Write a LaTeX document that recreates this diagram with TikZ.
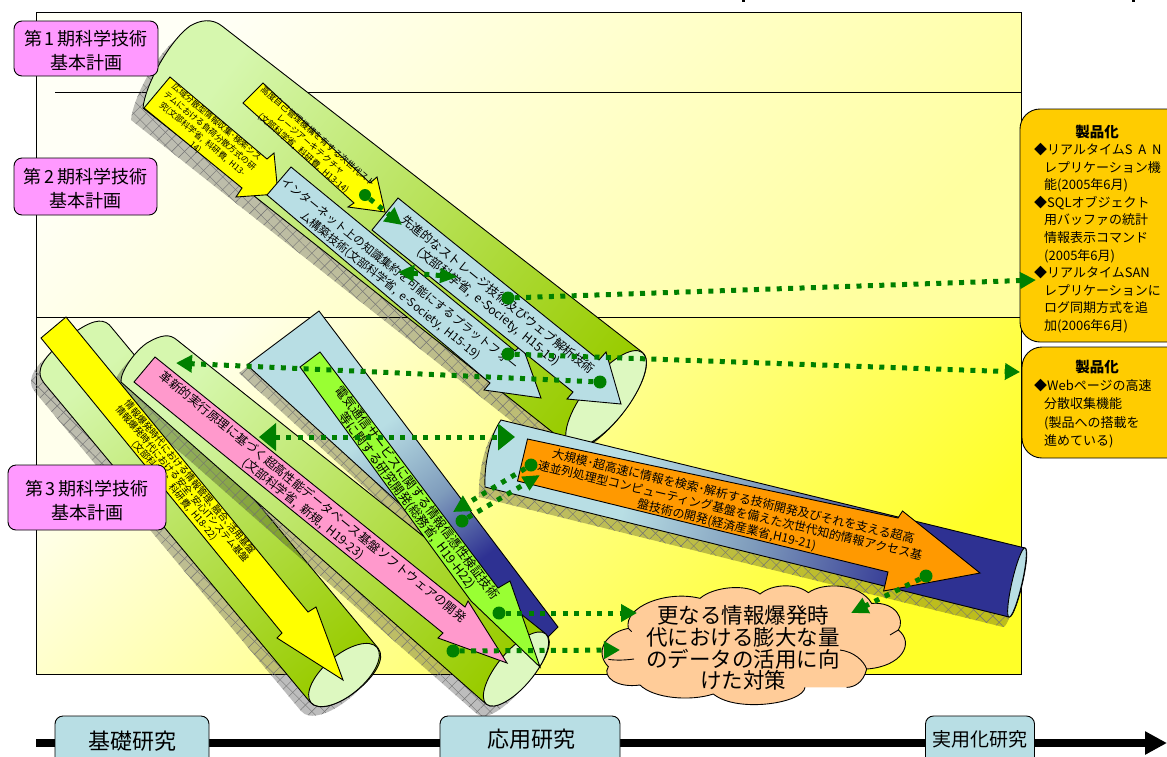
\documentclass[tikz,border=0pt]{standalone}
\usepackage{fontspec}
\setmainfont[WordSpace=2]{Noto Sans CJK JP}
\usetikzlibrary{arrows.meta,patterns.meta}
\definecolor{cylA}{HTML}{D6F7AE}
\definecolor{cylB}{HTML}{99CC00}
\definecolor{cylEnd}{HTML}{DDF8C0}
\definecolor{paleblue}{HTML}{B8DEE4}
\definecolor{navy}{HTML}{2E3192}
\definecolor{midblue}{HTML}{7F9CBC}
\definecolor{ggreen}{HTML}{008000}
\definecolor{labpink}{HTML}{FF99FF}
\definecolor{arrowpink}{HTML}{FF99CC}
\definecolor{lime}{HTML}{99FF33}
\definecolor{orangeA}{HTML}{FF9900}
\definecolor{gold}{HTML}{FFCC00}
\definecolor{peach}{HTML}{FFCC99}
\definecolor{pureyellow}{HTML}{FFFF00}
\definecolor{panelAa}{HTML}{FFFFF6}
\definecolor{panelAb}{HTML}{FFFFA0}
\definecolor{panelBa}{HTML}{FFFFEC}
\definecolor{panelBb}{HTML}{FFFF28}
\pgfdeclareverticalshading{wedgeS}{100bp}{color(0bp)=(navy); color(32bp)=(navy); color(44bp)=(midblue); color(58bp)=(paleblue); color(100bp)=(paleblue)}
\pgfdeclareverticalshading{cylS}{100bp}{color(0bp)=(navy); color(33bp)=(navy); color(50bp)=(midblue); color(64bp)=(paleblue); color(100bp)=(paleblue)}
\tikzset{
  edge/.style={draw=black,line width=.9pt},
  cylbody/.style={edge,top color=cylA,bottom color=cylB,shading angle=#1},
  cylcap/.style={edge,fill=cylEnd},
  arrowshape/.style={edge,fill=#1},
  jt/.style 2 args={font=\fontsize{#1}{#2}\selectfont,align=center,inner sep=0pt},
  period/.style={edge,fill=labpink,rounded corners=8pt,inner sep=0pt},
  periodtext/.style={font=\fontsize{18}{24}\selectfont,align=center,inner sep=0pt},
  stage/.style={edge,fill=paleblue,rounded corners=8pt,inner sep=0pt},
  product/.style={edge,fill=gold,rounded corners=20pt,inner sep=0pt},
  gconn/.style={ggreen,line width=5pt,dash pattern=on 5pt off 6.4pt},
  gstart/.style={circle,fill=ggreen,minimum size=13pt,inner sep=0pt},
}
\newcommand{\hshadow}[3]{%
  \begin{scope}[shift={(#1,#2)}]
    \fill[black,opacity=.26] #3;
    \path[pattern={Lines[angle=45,distance=9pt,line width=.45pt]},pattern color=black!55] #3;
    \path[pattern={Lines[angle=-45,distance=9pt,line width=.45pt]},pattern color=black!55] #3;
  \end{scope}}
\newcommand{\cylAshape}{(642,352) -- (222,26) .. controls (212,18) and (200,20) .. (190,26) .. controls (170,40) and (145,85) .. (143,108) -- (570,446) .. controls (593,464) and (665,370) .. (642,352) -- cycle}
\newcommand{\cylBshape}{(378,648) -- (112,328) .. controls (105,318) and (95,319) .. (78,330) .. controls (60,342) and (40,360) .. (40,372) .. controls (40,378) and (42,380) .. (44,383) -- (310,702) .. controls (327,723) and (395,669) .. (378,648) -- cycle}
\newcommand{\cylCshape}{(546,634) -- (177,340) .. controls (170,334) and (162,334) .. (147,343) .. controls (135,351) and (120,372) .. (121,382) -- (486,704) .. controls (504,719) and (564,649) .. (546,634) -- cycle}
\newcommand{\cylDshape}{(1025,548) -- (501,420) .. controls (490,435) and (484,465) .. (485,487) -- (1009,617) .. controls (1016,619) and (1032,550) .. (1025,548) -- cycle}
\newcommand{\wedgeshape}{(319,311) -- (558,627) -- (547,638) -- (247,365) -- cycle}
\begin{document}
\begin{tikzpicture}[x=1pt,y=-1pt]
\useasboundingbox (0,0) rectangle (1167,756);
% clipped text fragments at the top edge
\fill (742,0) rectangle (745,1.5);
\fill (1132,0) rectangle (1135,1.5);
% panels
\path[edge,top color=panelAa,bottom color=panelAb,shading angle=45] (36,12) rectangle (1021,317);
\path[edge,top color=panelBa,bottom color=panelBb,shading angle=45] (36,317) rectangle (1021,674);
\coordinate (lineL) at (55,92);
\coordinate (lineR) at (1021,92);
\draw[edge] (lineL) -- (lineR);
% axis
\coordinate (axisL) at (36,743);
\coordinate (axisR) at (1167,743);
\draw[line width=8pt,-{Triangle[length=22pt,width=22pt]}] (axisL) -- (axisR);
% cylinders
\hshadow{-12}{12}{\cylAshape}
\path[cylbody=52] \cylAshape;
\draw[cylcap,rotate around={52:(606,399)}] (606,399) ellipse [x radius=59,y radius=22];
\hshadow{-9}{9}{\cylBshape}
\path[cylbody=40] \cylBshape;
\draw[cylcap,rotate around={40:(344,675)}] (344,675) ellipse [x radius=43,y radius=20];
\hshadow{-8}{8}{\wedgeshape}
\path[edge,shading=wedgeS,shading angle=37] \wedgeshape;
\hshadow{-9}{10}{\cylCshape}
\path[cylbody=50] \cylCshape;
\draw[cylcap,rotate around={50:(516,669)}] (516,669) ellipse [x radius=46,y radius=18];
\hshadow{-6}{10}{\cylDshape}
\path[edge,shading=cylS,shading angle=76] \cylDshape;
\draw[edge,fill=paleblue,rotate around={77:(1017,582.5)}] (1017,582.5) ellipse [x radius=35.5,y radius=5];
% arrows, top group
\path[arrowshape=pureyellow] (170,77) -- (267,159) -- (274,153) -- (278,194) -- (236,197) -- (242,188) -- (144,108) -- cycle;
\node[jt={8.4}{11},rotate=-40] (tYa) at (206,135) {広域分散型情報収集･検索シス\\テムにおける負荷分散方式の研\\究(文部科学省, 科研費, H13-\\14)};
\path[arrowshape=pureyellow] (263,83) -- (370,183) -- (377,177) -- (385,212) -- (348,207) -- (354,203) -- (243,103) -- cycle;
\node[jt={8.7}{11},rotate=-41] (tYb) at (310.5,145) {高度自己管理機構を有する次世代スト\\レージアーキテクチャ\\(文部科学省, 科研費, H13-14)};
\path[arrowshape=paleblue] (291,167) -- (515,351) -- (522,345) -- (541,398) -- (484,390) -- (490,383) -- (267,195) -- cycle;
\node[jt={11.5}{15},rotate=-38.8] (tBa) at (395,280) {インターネット上の知識集約を可能にするプラットフォー\\ム構築技術(文部科学省, e-Society, H15-19)};
\path[arrowshape=paleblue] (398,198) -- (599,360) -- (606,352) -- (621,404) -- (567,399) -- (573,392) -- (372,230) -- cycle;
\node[jt={12.2}{15},rotate=-38.9] (tBb) at (493,301) {先進的なストレージ技術及びウェブ解析技術\\(文部科学省, e-Society, H15-19)};
% arrows, bottom group
\path[arrowshape=pureyellow] (66,317) -- (308,612) -- (316,607) -- (343,680) -- (277,638) -- (282,633) -- (41,338) -- cycle;
\node[jt={9.4}{10},rotate=-50] (tYc) at (182,484) {情報爆発時代における情報管理､融合､活用基盤\\情報爆発時代における安全･安心ITシステム基盤\\(文部科学省, 科研費, H18-22)};
\path[arrowshape=arrowpink] (155,357) -- (465,607) -- (468,601) -- (507,663) -- (438,638) -- (443,633) -- (134,382) -- cycle;
\node[jt={12.2}{15},rotate=-39] (tPk) at (308,503) {革新的実行原理に基づく超高性能データベース基盤ソフトウェアの開発\\(文部科学省, 新規, H19-23)};
\path[arrowshape=lime] (320,352) -- (498,588) -- (510,581) -- (540,667) -- (471,601) -- (300,367) -- cycle;
\node[jt={12.5}{13},rotate=-53] (tLm) at (412,497) {電気通信サービスに関する情報信憑性検証技術\\等に関する研究開発(総務省, H19-H22)};
\path[arrowshape=orangeA] (527.5,439) -- (898,518) -- (902.5,511) -- (980,573) -- (883.6,591) -- (888,572) -- (517.5,481) -- cycle;
\node[jt={12}{14.5},rotate=-13.3] (tOr) at (730,511) {大規模･超高速に情報を検索･解析する技術開発及びそれを支える超高\\速並列処理型コンピューティング基盤を備えた次世代知的情報アクセス基\\盤技術の開発(経済産業省,H19-21)};
% cloud
\begin{scope}[shift={(590,570)},scale=1/3]
\path[edge,fill=peach] (645,352) .. controls (640,400) and (440,430) .. (370,372)
  .. controls (300,395) and (190,385) .. (150,345)
  .. controls (80,355) and (35,320) .. (55,290)
  .. controls (15,250) and (40,190) .. (115,175)
  .. controls (100,110) and (230,60) .. (330,85)
  .. controls (370,50) and (470,40) .. (510,72)
  .. controls (550,40) and (620,40) .. (655,68)
  .. controls (700,35) and (810,40) .. (845,100)
  .. controls (920,95) and (945,150) .. (925,180)
  .. controls (975,220) and (935,290) .. (830,297)
  .. controls (820,340) and (790,352) .. (770,352);
\draw[edge] (55,268) .. controls (80,272) and (110,270) .. (132,267);
\draw[edge] (750,240) .. controls (790,245) and (820,270) .. (830,297);
\draw[edge] (900,195) -- (925,180);
\draw[edge] (115,175) -- (125,185);
\end{scope}
\node[jt={21.5}{21.7}] (tCl) at (743,648) {更なる情報爆発時\\代における膨大な量\\のデータの活用に向\\けた対策};
% period labels
\node[period,minimum width=144pt,minimum height=55pt] (p1) at (86,48.5) {};
\node[periodtext] (p1t) at (86,50.5) {第\,1\,期科学技術\\基本計画};
\node[period,minimum width=143pt,minimum height=57pt] (p2) at (85.5,186.5) {};
\node[periodtext] (p2t) at (85.5,188.5) {第\,2\,期科学技術\\基本計画};
\node[period,minimum width=158pt,minimum height=65pt] (p3) at (87,497.5) {};
\node[periodtext] (p3t) at (87,500.5) {第\,3\,期科学技術\\基本計画};
% stages
\node[stage,minimum width=154pt,minimum height=64pt] (s1) at (132,748) {};
\node[stage,minimum width=180pt,minimum height=64pt] (s2) at (530,748) {};
\node[stage,minimum width=109pt,minimum height=64pt] (s3) at (980,748) {};
\node[jt={22}{22}] (s1t) at (132,741) {基礎研究};
\node[jt={22}{22}] (s2t) at (531,739) {応用研究};
\node[jt={19}{19}] (s3t) at (980,739) {実用化研究};
% product boxes
\node[product,minimum width=180pt,minimum height=233pt] (b1) at (1110,225.5) {};
\node[product,minimum width=180pt,minimum height=111pt] (b2) at (1112,402.5) {};
\node[font=\fontsize{14.5}{14.5}\bfseries,inner sep=0pt] (b1h) at (1097,132) {製品化};
\node[font=\fontsize{14.5}{14.5}\bfseries,inner sep=0pt] (b2h) at (1097,367) {製品化};
\node[font=\fontsize{13}{17.6}\selectfont,align=left,inner sep=0pt,anchor=north west] (b1t) at (1034,143) {◆リアルタイムS A N\\\hspace*{10pt}レプリケーション機\\\hspace*{10pt}能(2005年6月)\\◆SQLオブジェクト\\\hspace*{10pt}用バッファの統計\\\hspace*{10pt}情報表示コマンド\\\hspace*{10pt}(2005年6月)\\◆リアルタイムSAN\\\hspace*{10pt}レプリケーションに\\\hspace*{10pt}ログ同期方式を追\\\hspace*{10pt}加(2006年6月)};
\node[font=\fontsize{13}{18.3}\selectfont,align=left,inner sep=0pt,anchor=north west] (b2t) at (1034,379) {◆Webページの高速\\\hspace*{10pt}分散収集機能\\\hspace*{10pt}(製品への搭載を\\\hspace*{10pt}進めている)};
% connectors
\node[gstart,minimum size=12pt] (c1) at (365,195) {};
\coordinate (e1) at (402,225);
\draw[gconn,-{Triangle[length=17pt,width=17pt]}] (c1) -- (e1);
\coordinate (c2a) at (398,272);
\coordinate (e2) at (458,277);
\draw[gconn,{Triangle[length=16pt,width=16pt]}-{Triangle[length=18pt,width=14pt]}] (c2a) -- (e2);
\node[gstart] (c3) at (508,298) {};
\coordinate (e3) at (1036,280);
\draw[gconn,-{Triangle[length=16pt,width=16pt]}] (c3) -- (e3);
\node[gstart] (c4) at (508,354) {};
\coordinate (e4) at (1020,372);
\draw[gconn,-{Triangle[length=15pt,width=16pt]}] (c4) -- (e4);
\node[gstart] (c5) at (600,382) {};
\coordinate (e5) at (176,363);
\draw[gconn,-{Triangle[length=16pt,width=17pt]}] (c5) -- (e5);
\coordinate (c6a) at (259,437);
\coordinate (e6) at (515,437);
\draw[gconn,{Triangle[length=17pt,width=27pt]}-{Triangle[length=17pt,width=26pt]}] (c6a) -- (e6);
\node[gstart] (c7) at (531,465) {};
\coordinate (e7) at (453,512);
\draw[gconn,-{Triangle[length=17pt,width=17pt]}] (c7) -- (e7);
\node[gstart] (c8) at (462,521) {};
\coordinate (e8) at (540,475);
\draw[gconn,-{Triangle[length=17pt,width=15pt]}] (c8) -- (e8);
\node[gstart] (c9) at (499,613) {};
\coordinate (e9) at (637,613);
\draw[gconn,-{Triangle[length=16pt,width=17pt]}] (c9) -- (e9);
\node[gstart] (c10) at (453,651) {};
\coordinate (e10) at (620,650);
\draw[gconn,-{Triangle[length=16pt,width=17pt]}] (c10) -- (e10);
\node[gstart] (c11) at (926,576) {};
\coordinate (e11) at (851,613);
\draw[gconn,-{Triangle[length=17pt,width=16pt]}] (c11) -- (e11);
\end{tikzpicture}
\end{document}
